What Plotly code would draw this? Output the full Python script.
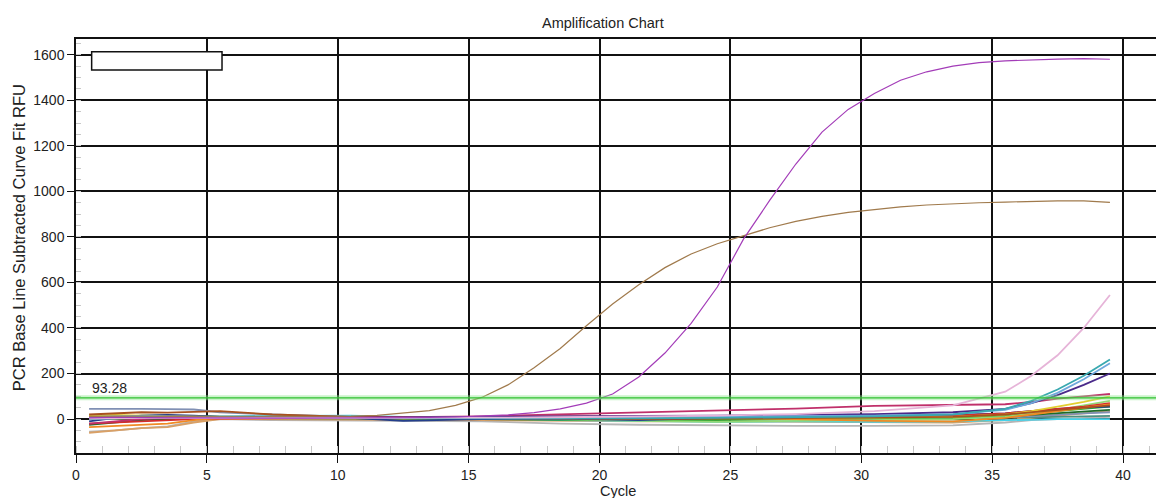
import plotly.graph_objects as go

# ---------------- data ----------------
TITLE = "Amplification Chart"
X_TITLE = "Cycle"
Y_TITLE = "PCR Base Line Subtracted Curve Fit RFU"
THRESHOLD = 93.28

# full-resolution cycles for the two amplified samples
CYCLES = [0.5, 1.5, 2.5, 3.5, 4.5, 5.5, 6.5, 7.5, 8.5, 9.5,
          10.5, 11.5, 12.5, 13.5, 14.5, 15.5, 16.5, 17.5, 18.5, 19.5,
          20.5, 21.5, 22.5, 23.5, 24.5, 25.5, 26.5, 27.5, 28.5, 29.5,
          30.5, 31.5, 32.5, 33.5, 34.5, 35.5, 36.5, 37.5, 38.5, 39.5]

MAGENTA = [5, 8, 6, 5, 6, 5, 4, 4, 4, 4,
           4, 5, 6, 7, 9, 12, 18, 28, 45, 70,
           110, 185, 290, 420, 580, 790, 960, 1120, 1260, 1360,
           1430, 1488, 1525, 1550, 1565, 1573, 1578, 1581, 1583, 1580]

BROWN = [12, 14, 13, 12, 12, 11, 10, 10, 11, 12,
         13, 16, 25, 37, 60, 95, 150, 225, 310, 410,
         505, 590, 665, 725, 770, 805, 840, 868, 890, 908,
         920, 932, 940, 946, 950, 953, 956, 958, 958, 952]

# sparse cycles for the baseline / late samples
XS = [0.5, 1.5, 2.5, 3.5, 4.5, 5.5, 7.5, 10.5, 12.5, 15.5, 18.5,
      21.5, 24.5, 27.5, 30.5, 33.5, 35.5, 36.5, 37.5, 38.5, 39.5]

S_PINK_LIGHT = [2, 4, 5, 5, 4, 4, 3, 4, 5, 6, 8, 10, 15, 22, 35, 60, 120, 190, 280, 400, 545]
S_TEAL = [0, 5, 8, 8, 6, 5, 4, 5, 5, 3, 2, 3, 5, 8, 12, 20, 45, 80, 130, 190, 262]
S_LIGHTBLUE = [10, 12, 14, 12, 10, 8, 6, 5, 4, 4, 6, 8, 10, 12, 15, 22, 40, 70, 115, 175, 245]
S_PURPLE = [5, 8, 10, 12, 10, 8, 6, 6, 8, 10, 12, 14, 15, 18, 22, 30, 45, 70, 105, 150, 200]
S_MAROON = [-20, -10, 0, 5, 8, 8, 6, 6, 8, 12, 20, 30, 36, 46, 58, 62, 65, 75, 90, 100, 110]
S_YELLOW = [15, 18, 15, 12, 10, 8, 5, 5, 4, 3, 2, 2, 3, 5, 6, 10, 20, 35, 55, 75, 100]
S_ORANGE = [-35, -30, -25, -20, -5, 5, 5, 5, 3, 5, 8, 8, 5, 0, -8, -10, 5, 20, 35, 50, 65]
S_RED = [-20, -15, -8, -3, 0, 2, 3, 5, 8, 10, 12, 10, 10, 10, 12, 15, 25, 35, 45, 55, 70]
S_GREEN = [5, 10, 15, 15, 12, 10, 8, 5, 3, 2, 0, -5, -3, 0, 2, 5, 15, 25, 35, 45, 55]
S_DARKGREEN = [-25, -15, -5, 0, 5, 5, 5, 3, 2, 0, -3, -5, -3, 0, 3, 5, 10, 18, 25, 32, 40]
S_DARKBLUE = [-10, 5, 15, 18, 15, 10, 5, 5, -8, 0, 2, -5, 5, 10, 15, 18, 25, 35, 45, 50, 55]
S_CYAN = [0, 5, 8, 10, 12, 12, 14, 15, 10, 5, -5, -10, -12, -10, -12, -10, -5, 0, 0, 0, 0]
S_GRAY = [-55, -50, -40, -32, -10, 0, -5, -5, -8, -10, -20, -25, -28, -30, -30, -28, -15, -5, 0, 5, 10]
S_TAN = [-60, -50, -40, -35, -15, 0, 0, -3, -3, -5, -8, -10, -10, -12, -12, -15, -5, 5, 15, 25, 35]
S_GRAYBLUE = [45, 46, 45, 44, 42, 30, 20, 10, 5, 3, 2, 0, 0, 2, 3, 5, 8, 12, 18, 25, 30]
S_SLATE = [10, 12, 15, 15, 12, 10, 8, 6, 4, 2, 0, -2, 0, 2, 3, 5, 5, 8, 10, 12, 14]
S_LIGHTGREEN = [0, 2, 5, 8, 10, 10, 8, 6, 5, 3, 0, -8, -12, -8, -5, 0, 10, 25, 40, 60, 80]
S_RUST = [20, 25, 30, 28, 30, 35, 20, 10, 8, 5, 3, 0, 2, 5, 8, 10, 20, 30, 40, 50, 60]

X_TICKS = [0, 5, 10, 15, 20, 25, 30, 35, 40]
Y_TICKS = [0, 200, 400, 600, 800, 1000, 1200, 1400, 1600]

# ---------------- figure ----------------
FONT = "Liberation Sans, Arial, sans-serif"
TXT = "#222"

fig = go.Figure()

baseline = [
    (S_GRAY, "#b5b5b5"), (S_TAN, "#d9a066"), (S_CYAN, "#45d2ea"),
    (S_SLATE, "#4f8f80"), (S_GRAYBLUE, "#8090b4"), (S_DARKGREEN, "#1d6b2a"),
    (S_GREEN, "#34b034"), (S_LIGHTGREEN, "#94d874"), (S_DARKBLUE, "#243f8c"),
    (S_RED, "#d42c2c"), (S_ORANGE, "#f08a24"), (S_YELLOW, "#e2cf30"),
    (S_RUST, "#a8501e"), (S_MAROON, "#c0306a"), (S_PURPLE, "#4a2a8a"),
    (S_LIGHTBLUE, "#6fa8dc"), (S_TEAL, "#39a9b0"), (S_PINK_LIGHT, "#e6b4d8"),
]
for ys, col in baseline:
    fig.add_trace(go.Scatter(x=XS, y=ys, mode="lines",
                             line=dict(color=col, width=1.8),
                             showlegend=False, hoverinfo="skip"))

fig.add_trace(go.Scatter(x=CYCLES, y=BROWN, mode="lines",
                         line=dict(color="#a07a4c", width=1.2),
                         showlegend=False))
fig.add_trace(go.Scatter(x=CYCLES, y=MAGENTA, mode="lines",
                         line=dict(color="#a33cb8", width=1.2),
                         showlegend=False))

# threshold line (with soft glow)
fig.add_shape(type="line", xref="paper", x0=0, x1=1, yref="y",
              y0=THRESHOLD, y1=THRESHOLD,
              line=dict(color="rgba(140,230,140,0.45)", width=5), layer="above")
fig.add_shape(type="line", xref="paper", x0=0, x1=1, yref="y",
              y0=THRESHOLD, y1=THRESHOLD,
              line=dict(color="#30c030", width=1.3), layer="above")
fig.add_annotation(x=0.55, y=THRESHOLD, yshift=10, xanchor="left",
                   text=f"{THRESHOLD:.2f}", showarrow=False,
                   font=dict(family=FONT, size=14, color=TXT))

# empty legend box
fig.add_shape(type="rect", xref="paper", yref="paper",
              x0=0.0145, x1=0.1352, y0=0.925, y1=0.969,
              line=dict(color="#111", width=1.5), fillcolor="white", layer="above")

# titles as annotations (precise placement)
fig.add_annotation(xref="paper", yref="paper", x=0.488, y=1.0393,
                   xanchor="center", yanchor="middle", text=TITLE, showarrow=False,
                   font=dict(family=FONT, size=14.5, color=TXT))
fig.add_annotation(xref="paper", yref="paper", x=0.5019, y=-0.0922,
                   xanchor="center", yanchor="middle", text=X_TITLE, showarrow=False,
                   font=dict(family=FONT, size=14.5, color=TXT))
fig.add_annotation(xref="paper", yref="paper", x=-0.0528, y=0.521,
                   xanchor="center", yanchor="middle", textangle=-90,
                   text=Y_TITLE, showarrow=False,
                   font=dict(family=FONT, size=16.5, color=TXT))

fig.update_layout(
    width=1156, height=498,
    margin=dict(l=76, r=0, t=39, b=44.5, autoexpand=False),
    paper_bgcolor="white", plot_bgcolor="white",
    font=dict(family=FONT, size=14, color=TXT),
)
fig.update_xaxes(
    range=[0, 41.26], tickvals=X_TICKS, ticktext=[str(v) for v in X_TICKS],
    showgrid=True, gridcolor="#111", gridwidth=1.5,
    showline=True, linecolor="#111", linewidth=1.5, mirror=True,
    ticks="outside", ticklen=8, tickcolor="#111", tickwidth=1.2,
    minor=dict(ticks="inside", dtick=1, ticklen=7, tickcolor="#c8c8c8", tickwidth=1, showgrid=False),
    zeroline=False, automargin=False,
    tickfont=dict(family=FONT, size=14, color=TXT),
)
fig.update_yaxes(
    range=[-149, 1669], tickvals=Y_TICKS, ticktext=[str(v) for v in Y_TICKS],
    showgrid=True, gridcolor="#111", gridwidth=1.5,
    showline=True, linecolor="#111", linewidth=1.5, mirror=False,
    ticks="outside", ticklen=7, tickcolor="#111", tickwidth=1.2,
    minor=dict(ticks="inside", dtick=50, ticklen=5, tickcolor="#c8c8c8", tickwidth=1, showgrid=False),
    zeroline=False, automargin=False,
    tickfont=dict(family=FONT, size=14, color=TXT),
)

fig.write_html(
    "out.html",
    config={"displayModeBar": False},
    post_script="document.body.style.margin='0';document.body.style.overflow='hidden';",
)
